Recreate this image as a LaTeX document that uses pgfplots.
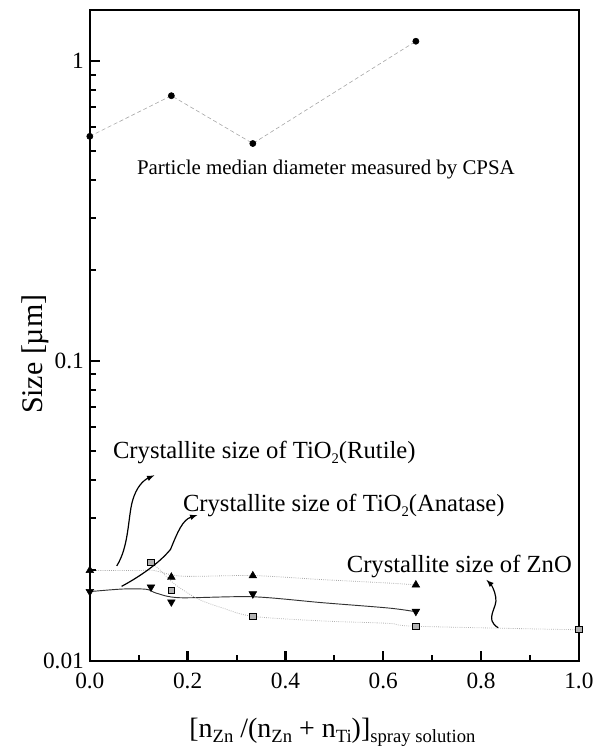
\documentclass[border=0pt]{standalone}
\usepackage{fontspec}
\setmainfont{Liberation Serif}
\usepackage{pgfplots}
\pgfplotsset{compat=1.18}
\newcommand{\lsub}[1]{\raisebox{-0.4ex}{\fontsize{14}{14}\selectfont #1}}
\newcommand{\tsub}[1]{\raisebox{-0.45ex}{\fontsize{11}{11}\selectfont #1}}
\begin{document}
\begin{tikzpicture}
\begin{axis}[
  at={(0pt,0pt)}, anchor=south west,
  scale only axis, width=367.5pt, height=489pt,
  xmin=0, xmax=1, ymode=log, ymin=0.01, ymax=1.477,
  clip mode=individual,
  axis line style={line width=1.6pt},
  tick align=inside,
  xtick pos=left, ytick pos=left,
  major tick length=7.5pt, minor tick length=4.5pt,
  every major tick/.append style={black, line width=1.8pt},
  every minor tick/.append style={black, line width=1.5pt},
  xtick={0,0.2,0.4,0.6,0.8,1.0},
  xticklabels={0.0,0.2,0.4,0.6,0.8,1.0},
  minor xtick={0.1,0.3,0.5,0.7,0.9},
  ytick={0.01,0.1,1}, yticklabels={0.01,0.1,1},
  minor ytick={0.02,0.03,0.04,0.05,0.06,0.07,0.08,0.09,0.2,0.3,0.4,0.5,0.6,0.7,0.8,0.9},
  xticklabel style={yshift=-6pt},
  tick label style={font=\fontsize{17.5}{18}\selectfont},
  yticklabel style={xshift=-1pt},
  xlabel={[n\lsub{Zn} /(n\lsub{Zn} + n\lsub{Ti})]\lsub{spray solution}},
  xlabel style={at={(axis description cs:0.496,-0.110)}, anchor=center, font=\fontsize{21}{22}\selectfont},
  ylabel={Size [µm]},
  ylabel style={at={(axis description cs:-0.112,0.471)}, anchor=center, font=\fontsize{22.5}{23}\selectfont},
]
% Particle median diameter (CPSA)
\addplot[gray!70, line width=0.45pt, densely dashed, mark=*, mark size=2.3pt, mark options={solid, fill=black, draw=black}]
  coordinates {(0,0.560) (0.1667,0.765) (0.3333,0.530) (0.6667,1.162)};
% Rutile line (dotted)
\addplot[gray!70, line width=0.6pt, densely dotted, smooth]
  coordinates {(0,0.0200) (0.10,0.0200) (0.13,0.0200) (0.19,0.01913) (0.333,0.01923) (0.476,0.01864) (0.612,0.01815) (0.6667,0.0179)};
% Rutile markers
\addplot[only marks, mark=triangle*, mark size=3.3pt, mark options={fill=black, draw=black}]
  coordinates {(0,0.0200) (0.1667,0.0190) (0.3333,0.0192) (0.6667,0.0179)};
% Anatase line (solid)
\addplot[black!80, line width=0.7pt, smooth]
  coordinates {(0,0.0170) (0.067,0.01734) (0.116,0.01730) (0.136,0.0168) (0.184,0.01622) (0.333,0.01634) (0.476,0.01561) (0.612,0.01498) (0.6667,0.01456)};
% Anatase markers
\addplot[only marks, mark=triangle*, mark size=3.3pt, mark options={rotate=180, fill=black, draw=black}]
  coordinates {(0,0.0170) (0.125,0.0176) (0.1667,0.0157) (0.3333,0.0167) (0.6667,0.0146)};
% ZnO line (dotted)
\addplot[gray!60, line width=0.6pt, densely dotted, smooth]
  coordinates {(0.127,0.0212) (0.146,0.0199) (0.163,0.01863) (0.184,0.01749) (0.224,0.01599) (0.272,0.01498) (0.333,0.01406) (0.476,0.01357) (0.612,0.01332) (0.6667,0.01303) (1.0,0.01268)};
% ZnO markers
\addplot[only marks, mark=square*, mark size=2.4pt, mark options={fill=gray!60, draw=black, line width=0.6pt}]
  coordinates {(0.125,0.0213) (0.1667,0.01717) (0.3333,0.01406) (0.6667,0.01303) (1.0,0.0127)};
% tick marks (inside), same places and lengths as the axis ticks
\pgfplotsinvokeforeach{0,0.2,0.4,0.6,0.8,1}{\draw[line width=1.8pt] (axis cs:#1,0.01) -- ++(0pt,7.5pt);}
\pgfplotsinvokeforeach{0.1,0.3,0.5,0.7,0.9}{\draw[line width=1.5pt] (axis cs:#1,0.01) -- ++(0pt,4.5pt);}
\pgfplotsinvokeforeach{0.01,0.1,1}{\draw[line width=1.8pt] (axis cs:0,#1) -- ++(7.5pt,0pt);}
\pgfplotsinvokeforeach{0.02,0.03,0.04,0.05,0.06,0.07,0.08,0.09,0.2,0.3,0.4,0.5,0.6,0.7,0.8,0.9}{\draw[line width=1.5pt] (axis cs:0,#1) -- ++(4.5pt,0pt);}
% annotations
\node[anchor=base west, font=\fontsize{15.7}{17}\selectfont, inner sep=0pt] at (axis cs:0.096,0.418) {Particle median diameter measured by CPSA};
\node[anchor=base west, font=\fontsize{18.5}{20}\selectfont, inner sep=0pt] at (axis cs:0.047,0.0473) {Crystallite size of TiO\tsub{2}(Rutile)};
\node[anchor=base west, font=\fontsize{18.5}{20}\selectfont, inner sep=0pt] at (axis cs:0.190,0.0315) {Crystallite size of TiO\tsub{2}(Anatase)};
\node[anchor=base west, font=\fontsize{18.5}{20}\selectfont, inner sep=0pt] at (axis cs:0.525,0.01961) {Crystallite size of ZnO};
\draw[-latex, line width=0.9pt] (axis cs:0.055,0.0207) .. controls (axis cs:0.080,0.0240) and (axis cs:0.078,0.0300) .. (axis cs:0.087,0.0340) .. controls (axis cs:0.095,0.0380) and (axis cs:0.110,0.0400) .. (axis cs:0.132,0.0415);
\draw[-latex, line width=0.9pt] (axis cs:0.065,0.0177) .. controls (axis cs:0.100,0.0190) and (axis cs:0.140,0.0210) .. (axis cs:0.165,0.0235) .. controls (axis cs:0.180,0.0270) and (axis cs:0.190,0.0295) .. (axis cs:0.220,0.0306);
\draw[-latex, line width=0.9pt] (axis cs:0.835,0.01288) .. controls (axis cs:0.805,0.0138) and (axis cs:0.835,0.0150) .. (axis cs:0.830,0.0163) .. controls (axis cs:0.828,0.0172) and (axis cs:0.820,0.0180) .. (axis cs:0.811,0.0186);
\end{axis}
\path (-67.5pt,-66.75pt) rectangle (381pt,496.5pt);
\end{tikzpicture}
\end{document}
